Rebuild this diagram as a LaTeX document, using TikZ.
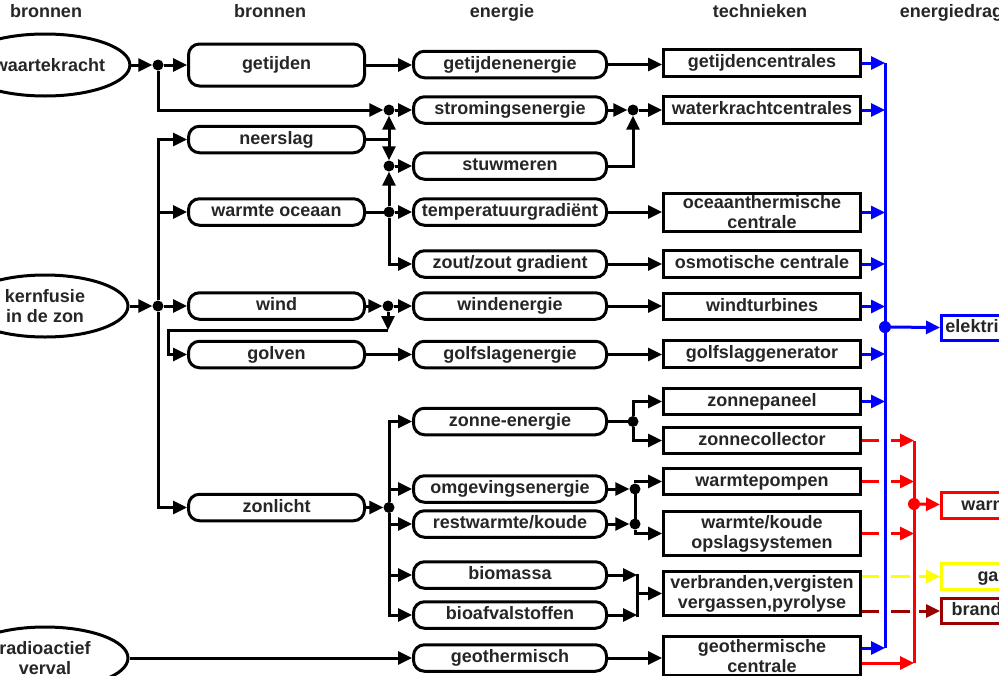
\documentclass[tikz,border=0pt]{standalone}
\usepackage{fontspec}
\setmainfont{Liberation Sans}
\usetikzlibrary{shapes.geometric,arrows.meta}
\definecolor{bl}{RGB}{0,0,255}
\definecolor{rd}{RGB}{255,0,0}
\definecolor{yl}{RGB}{255,255,0}
\definecolor{dr}{RGB}{153,0,0}
\begin{document}
\begin{tikzpicture}[x=1pt,y=-1pt,
  every node/.style={font=\fontsize{18}{20}\selectfont\bfseries, text=black!85},
  lw/.style={line width=3pt},
  rbox/.style={draw, lw, rounded corners=11pt, inner sep=0pt, fill=white, text height=13pt, text depth=4pt, minimum height=26.5pt},
  c2/.style={rbox, minimum width=176pt},
  c3/.style={rbox, minimum width=193pt},
  sbox/.style={draw, lw, inner sep=0pt, align=center, minimum width=197pt},
  one/.style={text height=13pt, text depth=4pt, minimum height=26.5pt},
  ell/.style={draw, lw, ellipse, inner sep=0pt, align=center, minimum width=166pt, minimum height=62pt},
  jdot/.style={circle, fill, inner sep=0pt, minimum size=11pt},
  ln/.style={lw, line cap=rect},
  arr/.style={lw, -{Triangle[length=14pt,width=13pt]}},
  hdr/.style={anchor=base},
  cbox/.style={line width=3pt, inner sep=0pt, minimum width=103pt, minimum height=25.5pt, text height=13pt, text depth=4pt},
]
\fill[white] (0,0) rectangle (999,675);
\useasboundingbox (0,0) rectangle (999,675);
\clip (0,0) rectangle (999,675);

% headers
\node[hdr] (h1) at (46,17) {bronnen};
\node[hdr] (h2) at (270,17) {bronnen};
\node[hdr] (h3) at (502,17) {energie};
\node[hdr] (h4) at (760,17) {technieken};
\node[hdr] (h5) at (965,17) {energiedragers};

% column 1
\node[ell] (zw) at (45,65) {zwaartekracht};
\node[ell] (kf) at (45,306) {kernfusie\\in de zon};
\node[ell] (ra) at (45,658) {radioactief\\verval};

% column 2
\node[c2, minimum height=42pt] (gt) at (276.5,65) {getijden};
\node[c2] (ns) at (276.5,139.5) {neerslag};
\node[c2] (wo) at (276.5,212) {warmte oceaan};
\node[c2] (wi) at (276.5,306) {wind};
\node[c2] (gv) at (276.5,354.5) {golven};
\node[c2] (zl) at (276.5,507.5) {zonlicht};

% column 3
\node[c3] (gte) at (510,64.5) {getijdenenergie};
\node[c3] (se) at (510,110) {stromingsenergie};
\node[c3] (sw) at (510,166) {stuwmeren};
\node[c3] (tg) at (510,212) {temperatuurgradiënt};
\node[c3] (zz) at (510,264) {zout/zout gradient};
\node[c3] (we) at (510,306) {windenergie};
\node[c3] (gs) at (510,354.5) {golfslagenergie};
\node[c3] (ze) at (510,421.5) {zonne-energie};
\node[c3] (og) at (510,489) {omgevingsenergie};
\node[c3] (rw) at (510,524) {restwarmte/koude};
\node[c3] (bm) at (510,575) {biomassa};
\node[c3] (bf) at (510,615) {bioafvalstoffen};
\node[c3] (geo) at (510,658) {geothermisch};

% column 4
\node[sbox, one] (gtc) at (762,63) {getijdencentrales};
\node[sbox, one] (wk) at (762,110) {waterkrachtcentrales};
\node[sbox, minimum height=38pt] (ot) at (762,212.5) {oceaanthermische\\centrale};
\node[sbox, one] (os) at (762,264) {osmotische centrale};
\node[sbox, one] (wt) at (762,306.5) {windturbines};
\node[sbox, one] (gg) at (762,354) {golfslaggenerator};
\node[sbox, one] (zp) at (762,401.5) {zonnepaneel};
\node[sbox, one] (zc) at (762,440.5) {zonnecollector};
\node[sbox, one] (wp) at (762,481.5) {warmtepompen};
\node[sbox, minimum height=44pt] (ops) at (762,533.5) {warmte/koude\\opslagsystemen};
\node[sbox, minimum height=44pt] (vb) at (762,593.5) {verbranden,vergisten\\vergassen,pyrolyse};
\node[sbox, minimum height=39pt] (gtc2) at (762,656) {geothermische\\centrale};

% column 5
\node[cbox, draw=bl] (el) at (993,328) {elektriciteit};
\node[cbox, draw=rd] (wa) at (993,505.5) {warmte};
\node[cbox, draw=yl] (gas) at (993,576.5) {gas};
\node[cbox, draw=dr] (bs) at (993,611) {brandstof};

% junctions
\node[jdot] (dA) at (158,65) {};
\node[jdot] (dB) at (389,110) {};
\node[jdot] (dC) at (389,166) {};
\node[jdot] (dD) at (389,212) {};
\node[jdot] (dE) at (158,306) {};
\node[jdot] (dF) at (388,306) {};
\node[jdot] (dG) at (633,110) {};
\node[jdot] (dH) at (389,507.5) {};
\node[jdot] (dI) at (633,421.5) {};
\node[jdot] (dK) at (635,489) {};
\node[jdot] (dL) at (635,524) {};
\coordinate (j1) at (389,139.5);
\coordinate (j2) at (388,330);
\coordinate (j3) at (168,330);
\coordinate (b1) at (637,575);
\coordinate (b2) at (637,615);
\coordinate (b3) at (637,593.5);
\coordinate (bt) at (885,63);
\coordinate (bb) at (885,648);
\coordinate (rt) at (914,440.5);
\coordinate (rb) at (914,663);

% black connectors
\draw[arr] (zw) -- (dA);
\draw[arr] (dA) -- (gt);
\draw[arr] (dA) |- (dB);
\draw[arr] (dB) -- (se);
\draw[ln] (ns) -- (j1);
\draw[arr] (j1) -- (dB);
\draw[arr] (j1) -- (dC);
\draw[arr] (dC) -- (sw);
\draw[ln] (wo) -- (dD);
\draw[arr] (dD) -- (dC);
\draw[arr] (dD) -- (tg);
\draw[arr] (dD) |- (zz);
\draw[arr] (kf) -- (dE);
\draw[arr] (dE) -- (wi);
\draw[arr] (dE) |- (ns);
\draw[arr] (dE) |- (wo);
\draw[arr] (dE) |- (zl);
\draw[arr] (wi) -- (dF);
\draw[arr] (dF) -- (we);
\draw[arr] (dF) -- (j2);
\draw[arr] (j2) -- (j3) |- (gv);
\draw[arr] (gv) -- (gs);
\draw[arr] (gt.east) -- (gt.east -| gte.west);
\draw[arr] (gte.east) -- (gte.east -| gtc.west);
\draw[arr] (se) -- (dG);
\draw[arr] (dG) -- (wk);
\draw[arr] (sw) -| (dG);
\draw[arr] (tg.east) -- (tg.east -| ot.west);
\draw[arr] (zz.east) -- (zz.east -| os.west);
\draw[arr] (we.east) -- (we.east -| wt.west);
\draw[arr] (gs.east) -- (gs.east -| gg.west);
\draw[arr] (zl) -- (dH);
\draw[arr] (dH) |- (ze);
\draw[arr] (dH) |- (bf);
\draw[arr] (dH |- og) -- (og);
\draw[arr] (dH |- rw) -- (rw);
\draw[arr] (dH |- bm) -- (bm);
\draw[ln] (ze) -- (dI);
\draw[arr] (dI) |- (zp);
\draw[arr] (dI) |- (zc);
\draw[arr] (og) -- (dK);
\draw[arr] (rw) -- (dL);
\draw[ln] (dK) -- (dL);
\draw[arr] (dK) |- (wp);
\draw[arr] (dL) |- (ops);
\draw[arr] (bm) -- (b1);
\draw[arr] (bf) -- (b2);
\draw[ln] (b1) -- (b2);
\draw[arr] (b3) -- (vb);
\draw[arr] (ra) -- (geo);
\draw[arr] (geo.east) -- (geo.east -| gtc2.west);

% coloured connectors
\draw[arr, rd] (zc.east) -- (zc.east -| rt);
\draw[arr, rd] (wp.east) -- (wp.east -| rt);
\draw[arr, rd] (ops.east) -- (ops.east -| rt);
\draw[arr, rd] ([yshift=-7pt]gtc2.east) -- ([yshift=-7pt]gtc2.east -| rt);
\draw[arr, yl] (vb.east |- gas) -- (gas);
\draw[arr, dr] (vb.east |- bs) -- (bs);
\draw[white, line width=12pt] (885,430) -- (885,640);
\draw[lw, bl] (bt) -- (bb);
\foreach \n in {gtc,wk,ot,os,wt,gg,zp} \draw[arr, bl] (\n.east) -- (\n.east -| bt);
\draw[arr, bl] ([yshift=8pt]gtc2.east) -- ([yshift=8pt]gtc2.east -| bt);
\node[jdot, bl, minimum size=12pt] (dBl) at (885,327) {};
\draw[arr, bl] (dBl) -- (el);
\draw[white, line width=9pt] (914,565) -- (914,622);
\draw[lw, rd] (rt) -- (rb);
\node[jdot, rd, minimum size=12pt] (dR) at (914,504) {};
\draw[arr, rd] (dR) -- (wa);
\end{tikzpicture}
\end{document}
